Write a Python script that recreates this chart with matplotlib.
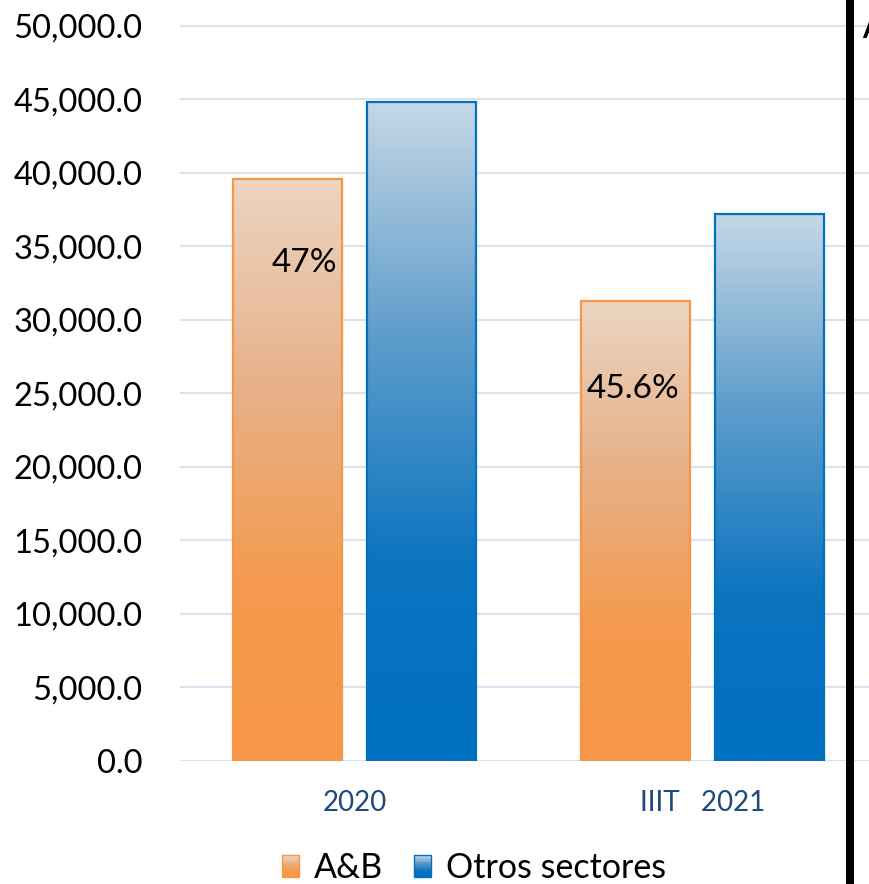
import matplotlib.pyplot as plt
import numpy as np
from matplotlib.colors import LinearSegmentedColormap
from matplotlib.patches import Rectangle
from matplotlib.lines import Line2D
from matplotlib.legend_handler import HandlerBase
from matplotlib.ticker import FuncFormatter

plt.rcParams['font.family'] = ['Lato', 'DejaVu Sans']

categories = ["2020", "IIIT   2021"]
ab = [39600, 31300]
otros = [44800, 37200]
shares = ["47%", "45.6%"]
series_names = ["A&B", "Otros sectores"]

orange_cmap = LinearSegmentedColormap.from_list(
    "orange", [(0.0, "#f79646"), (0.3, "#f49a4e"), (0.65, "#e7b28a"), (1.0, "#ecd5c2")])
blue_cmap = LinearSegmentedColormap.from_list(
    "blue", [(0.0, "#0070c0"), (0.3, "#0b74c0"), (0.65, "#5f9dcb"), (1.0, "#c5d7e6")])


class GradientHandler(HandlerBase):
    def __init__(self, cmap, edge):
        super().__init__()
        self.cmap = cmap
        self.edge = edge

    def create_artists(self, legend, orig_handle, xdescent, ydescent,
                       width, height, fontsize, trans):
        n = 24
        arts = []
        for i in range(n):
            y = -ydescent + height * i / n
            arts.append(Rectangle((-xdescent, y), width, height / n + 0.3,
                                  facecolor=self.cmap(i / (n - 1)),
                                  edgecolor="none", transform=trans))
        arts.append(Rectangle((-xdescent, -ydescent), width, height,
                              facecolor="none", edgecolor=self.edge,
                              linewidth=1.0, transform=trans))
        return arts


fig = plt.figure(figsize=(8.7, 8.84), dpi=100)
ax = fig.add_axes([180 / 870, 123 / 884, 690 / 870, 741 / 884])

x = np.arange(len(categories))
w = 0.313
off = 0.192

grad = np.linspace(0, 1, 256).reshape(-1, 1)
for vals, sign, cmap, edge in [(ab, -1, orange_cmap, "#f79646"),
                               (otros, 1, blue_cmap, "#0070c0")]:
    bars = ax.bar(x + sign * off, vals, width=w, fill=False, edgecolor=edge,
                  linewidth=1.6, zorder=3)
    for b in bars:
        x0 = b.get_x()
        ax.imshow(grad, extent=[x0, x0 + b.get_width(), 0, b.get_height()],
                  cmap=cmap, origin="lower", aspect="auto", zorder=2)

# share labels inside the A&B bars
label_pos = [(-0.146, 33900), (0.80, 25300)]
for (lx, ly), s in zip(label_pos, shares):
    ax.text(lx, ly, s, fontsize=24, ha="center", va="center", color="black", zorder=4)

ax.set_xlim(-0.5023, 1.4813)
ax.set_ylim(0, 50408)
ax.set_yticks(np.arange(0, 50001, 5000))
ax.yaxis.set_major_formatter(FuncFormatter(lambda v, p: f"{v:,.1f}"))
ax.tick_params(axis="y", length=0, pad=27, labelsize=23.5)
ax.set_xticks(x)
ax.set_xticklabels(categories)
ax.tick_params(axis="x", length=0, pad=21, labelsize=20, labelcolor="#1f497d")
ax.yaxis.grid(True, color="#d9e2f1", linewidth=1.5)
ax.set_axisbelow(True)
for sp in ax.spines.values():
    sp.set_visible(False)

handles = [Rectangle((0, 0), 1, 1), Rectangle((0, 0), 1, 1)]
fig.legend(handles, series_names, loc="center", bbox_to_anchor=(0.545, 0.018),
           ncol=2, frameon=False, fontsize=24.5, handlelength=0.5, handleheight=0.6,
           handletextpad=0.45, columnspacing=0.9,
           handler_map={handles[0]: GradientHandler(orange_cmap, "#f79646"),
                        handles[1]: GradientHandler(blue_cmap, "#0070c0")})

# thick black divider at the right and the cut-off letter beyond it
fig.add_artist(Line2D([850 / 870, 850 / 870], [0, 1], color="black",
                      linewidth=5.8, transform=fig.transFigure))
fig.text(862 / 870, (884 - 30) / 884, "A", fontsize=20, fontweight="bold",
         ha="left", va="center")

fig.savefig("out.png", dpi=100)
